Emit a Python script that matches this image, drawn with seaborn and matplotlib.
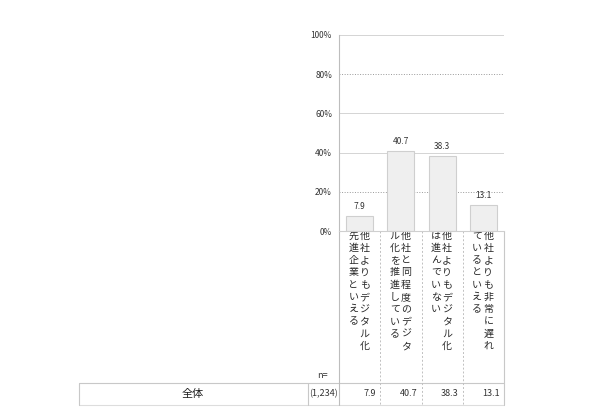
import matplotlib
matplotlib.use("Agg")
import matplotlib.pyplot as plt
from matplotlib import transforms
import seaborn as sns

# --- data ---
categories = [
    "他社よりもデジタル化先進企業といえる",
    "他社と同程度のデジタル化を推進している",
    "他社よりもデジタル化は進んでいない",
    "他社よりも非常に遅れているといえる",
]
values = [7.9, 40.7, 38.3, 13.1]
row_label = "全体"
row_n = "(1,234)"
y_ticks = [0, 20, 40, 60, 80, 100]
y_tick_labels = ["0%", "20%", "40%", "60%", "80%", "100%"]

sns.set_style("white")
plt.rcParams["font.family"] = ["Noto Sans CJK JP", "DejaVu Sans"]

W, H = 590, 420
fig = plt.figure(figsize=(W / 100, H / 100), dpi=100)

# overlay axes in pixel coordinates for the table part
ov = fig.add_axes([0, 0, 1, 1], zorder=0)
ov.set_xlim(0, W)
ov.set_ylim(H, 0)
ov.axis("off")

# --- main bar chart ---
x0, x1, ytop, ybot = 339, 504, 35, 231
ax = fig.add_axes([x0 / W, 1 - ybot / H, (x1 - x0) / W, (ybot - ytop) / H], zorder=1)
ax.patch.set_alpha(0)
sns.barplot(x=list(range(len(values))), y=values, color="#efefef",
            edgecolor="#cfcfcf", linewidth=0.8, width=0.65, ax=ax, saturation=1)
ax.set_xlim(-0.5, len(values) - 0.5)
ax.set_ylim(0, 100)
ax.set_yticks(y_ticks)
ax.set_yticklabels(y_tick_labels, fontsize=6, color="#333333")
ax.set_xticks([])
ax.set_xlabel("")
ax.set_ylabel("")
ax.tick_params(axis="y", length=0, pad=5)
for t in y_ticks[1:]:
    ls = ":" if t in (20, 80) else "-"
    col = "#999999" if ls == ":" else "#d4d4d4"
    ax.axhline(t, color=col, lw=0.7, ls=ls, zorder=0)
for s in ["top", "right"]:
    ax.spines[s].set_visible(False)
ax.spines["left"].set_color("#bdbdbd")
ax.spines["left"].set_linewidth(0.8)
ax.spines["bottom"].set_color("#cfcfcf")
ax.spines["bottom"].set_linewidth(0.8)

for i, v in enumerate(values):
    ax.text(i, v + 2.5, f"{v:.1f}", ha="center", va="bottom", fontsize=6, color="#333333")

# x in category units, y in pixels
bt = transforms.blended_transform_factory(ax.transData, ov.transData)

# vertical category labels, two columns read right to left
step = 12.3
for i, lab in enumerate(categories):
    right, left = lab[:10], lab[10:]
    for col_text, dx in ((right, 0.12), (left, -0.15)):
        for k, ch in enumerate(col_text):
            ov.text(i + dx, 235.5 + k * step, ch, transform=bt, ha="center",
                    va="center", fontsize=7.2, color="#2a2a2a")

# --- table lines ---
line_kw = dict(color="#c8c8c8", lw=0.8)
ov.plot([79, x1], [383, 383], **line_kw)
ov.plot([79, x1], [405, 405], color="#dddddd", lw=0.8)
ov.plot([79, 79], [383, 405], **line_kw)
ov.plot([308, 308], [383, 405], **line_kw)
ov.plot([x0, x0], [ybot, 405], color="#bdbdbd", lw=0.8)
ov.plot([x1, x1], [ybot, 405], **line_kw)
for b in range(1, len(values)):
    ov.plot([b - 0.5, b - 0.5], [ybot, 405], transform=bt, color="#c0c0c0",
            lw=0.7, ls=(0, (2, 2)))

ov.text(322, 375, "n=", ha="center", va="center", fontsize=6.5, color="#333333")
ov.text(193, 394, row_label, ha="center", va="center", fontsize=8, color="#222222")
ov.text(324, 394, row_n, ha="center", va="center", fontsize=6.5, color="#333333")
for i, v in enumerate(values):
    ov.text(i + 0.4, 394, f"{v:.1f}", transform=bt, ha="right", va="center",
            fontsize=6.5, color="#333333")

fig.savefig("out.png", dpi=100)
